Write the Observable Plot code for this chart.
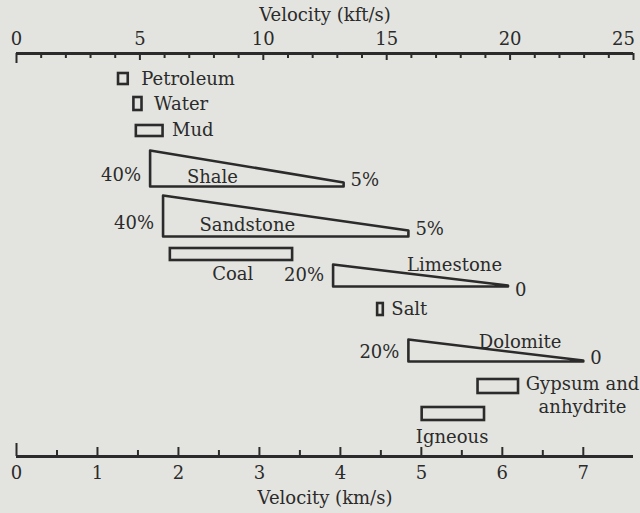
<!DOCTYPE html>
<html>
<head>
<meta charset="utf-8">
<script src="https://cdn.jsdelivr.net/npm/d3@7"></script>
<script src="https://cdn.jsdelivr.net/npm/@observablehq/plot@0.6"></script>
<style>
  html, body { margin: 0; padding: 0; background: #e3e4df; }
</style>
</head>
<body>
<div id="chart"></div>
<script>
// ---------- data ----------
const rocks = ["Petroleum", "Water", "Mud", "Shale", "Sandstone", "Coal", "Limestone", "Salt", "Dolomite", "Gypsum and\nanhydrite", "Igneous"];
const shapeKind = ["box", "box", "box", "wedge", "wedge", "box", "wedge", "box", "wedge", "box", "box"];
const vMin = [1.26, 1.45, 1.48, 1.65, 1.81, 1.90, 3.91, 4.46, 4.84, 5.70, 5.01]; // km/s
const vMax = [1.38, 1.55, 1.81, 4.04, 4.84, 3.41, 6.07, 4.53, 7.00, 6.20, 5.78]; // km/s
const porosityLow = ["", "", "", "40%", "40%", "", "20%", "", "20%", "", ""];
const porosityHigh = ["", "", "", "5%", "5%", "", "0", "", "0", "", ""];
const kftTicks = d3.range(0, 26, 1);
const kftLabels = [0, 5, 10, 15, 20, 25];
const kmMinorTicks = [0.5, 1.5, 2.5, 3.5, 4.5, 5.5, 6.5];
const kmLabels = [0, 1, 2, 3, 4, 5, 6, 7];
const KFT_TO_KM = 0.3048;
const xMaxKm = 25 * KFT_TO_KM;

// ---------- layout (vertical placement, label placement) ----------
const rowTop    = [20, 44, 72, 97, 142, 195, 211, 250, 286, 326, 354];
const rowBottom = [31, 57, 83, 133, 183, 207, 233, 262, 308, 340, 367];
const tipTop    = [null, null, null, 129, 177, null, 232, null, 307, null, null];
const labelMode = ["right", "right", "right", "center", "center", "center", "center", "right", "center", "center", "center"];
const labelDx   = [13, 12, 9, 0, 0, 0, 0, 8, 0, 0, 0];
const labelX    = [null, null, null, 2.42, 2.85, 2.67, 5.41, null, 6.22, 6.99, 5.38];
const labelY    = [26, 51, 77, 122, 170, 219, 210, 256, 287, 340.5, 382];
const lowY      = [null, null, null, 122, 170, null, 222, null, 299, null, null];
const highY     = [null, null, null, 127, 176, null, 237, null, 305, null, null];

const rows = rocks.map((name, i) => ({
  name, kind: shapeKind[i], v0: vMin[i], v1: vMax[i],
  low: porosityLow[i], high: porosityHigh[i],
  top: rowTop[i], bottom: rowBottom[i], tip: tipTop[i],
  mode: labelMode[i], ldx: labelDx[i], lx: labelX[i], ly: labelY[i], lowY: lowY[i], highY: highY[i]
}));

const boxes = rows.filter(d => d.kind === "box");
const wedges = rows.filter(d => d.kind === "wedge");
const wedgePts = wedges.flatMap(d => [
  {name: d.name, x: d.v0, y: d.top},
  {name: d.name, x: d.v1, y: d.tip},
  {name: d.name, x: d.v1, y: d.bottom},
  {name: d.name, x: d.v0, y: d.bottom},
  {name: d.name, x: d.v0, y: d.top}
]);

const ink = "#2b2b2b";
const font = "DejaVu Serif";
const fs = 18;

const rightLabels = rows.filter(d => d.mode === "right");

const chart = Plot.plot({
  width: 640,
  height: 513,
  marginLeft: 16,
  marginRight: 7,
  marginTop: 53,
  marginBottom: 57,
  style: {background: "#e3e4df", color: ink, fontFamily: font, fontSize: fs + "px"},
  x: {domain: [0, xMaxKm], axis: null},
  y: {domain: [0, 403], reverse: true, axis: null},
  marks: [
    // axis lines
    Plot.ruleY([0], {x1: 0, x2: xMaxKm, stroke: ink, strokeWidth: 3}),
    Plot.ruleY([403], {x1: 0, x2: xMaxKm, stroke: ink, strokeWidth: 3}),
    // top ticks (kft/s), pointing down
    Plot.ruleX(kftTicks, {x: d => d * KFT_TO_KM, y1: 0, y2: d => d === 0 ? 10 : (d % 5 === 0 ? 7 : 5), stroke: ink, strokeWidth: 2}),
    // bottom ticks (km/s), pointing up
    Plot.ruleX(kmLabels, {x: d => d, y1: 403, y2: d => d === 0 ? 390 : 394, stroke: ink, strokeWidth: 2}),
    Plot.ruleX(kmMinorTicks, {x: d => d, y1: 403, y2: 397, stroke: ink, strokeWidth: 2}),
    // axes tick labels
    Plot.axisX(kftLabels.filter(d => d < 25).map(d => d * KFT_TO_KM), {
      anchor: "top", tickSize: 0, tickPadding: 9, fontSize: fs,
      tickFormat: d => String(Math.round(d / KFT_TO_KM)), label: null
    }),
    Plot.axisX(kftLabels.filter(d => d === 25).map(d => d * KFT_TO_KM), {
      anchor: "top", tickSize: 0, tickPadding: 9, fontSize: fs, dx: -10,
      tickFormat: d => String(Math.round(d / KFT_TO_KM)), label: null
    }),
    Plot.axisX(kmLabels, {
      anchor: "bottom", tickSize: 0, tickPadding: 10, fontSize: fs,
      tickFormat: d => String(d), label: null
    }),
    Plot.text(["Velocity (kft/s)"], {frameAnchor: "top", lineAnchor: "middle", dy: -38, fontSize: fs, fill: ink}),
    Plot.text(["Velocity (km/s)"], {frameAnchor: "bottom", lineAnchor: "middle", dy: 42, fontSize: fs, fill: ink}),
    // shapes
    Plot.rect(boxes, {x1: "v0", x2: "v1", y1: "top", y2: "bottom", fill: "none", stroke: ink, strokeWidth: 2.6}),
    Plot.line(wedgePts, {x: "x", y: "y", z: "name", stroke: ink, strokeWidth: 2.6, strokeLinejoin: "round", curve: "linear"}),
    // rock labels
    ...rightLabels.map(d => Plot.text([d], {x: "v1", y: "ly", text: "name", textAnchor: "start", dx: d.ldx, fontSize: fs, fill: ink})),
    Plot.text(rows.filter(d => d.mode === "center"), {x: "lx", y: "ly", text: "name", textAnchor: "middle", lineHeight: 1.28, fontSize: fs, fill: ink}),
    // porosity labels
    Plot.text(wedges, {x: "v0", y: "lowY", text: "low", textAnchor: "end", dx: -9, fontSize: fs, fill: ink}),
    Plot.text(wedges, {x: "v1", y: "highY", text: "high", textAnchor: "start", dx: 7, fontSize: fs, fill: ink})
  ]
});
document.getElementById("chart").appendChild(chart);
</script>
</body>
</html>
